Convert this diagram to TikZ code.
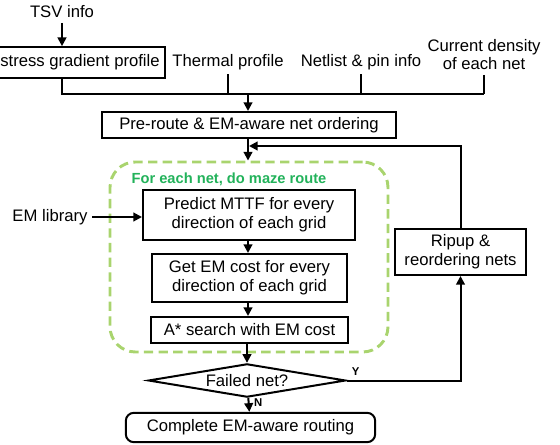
\documentclass[tikz,border=0pt]{standalone}
\usepackage{fontspec}
\setmainfont{Liberation Sans}
\usetikzlibrary{arrows.meta,positioning,calc,shapes.geometric}

\definecolor{loopgreen}{RGB}{169,212,110}
\definecolor{labelgreen}{RGB}{34,178,90}

\tikzset{
  line/.style={line width=1.5pt},
  arr/.style={line width=1.5pt,-{Triangle[length=6.5pt,width=6.5pt]}},
  box/.style={draw,line width=1.5pt,align=center,inner sep=2pt},
  loopbox/.style={draw=loopgreen,line width=2.2pt,dash pattern=on 7pt off 4pt,rounded corners=19pt},
  tag/.style={font=\fontsize{8.5}{10}\selectfont\bfseries}
}

\begin{document}
\begin{tikzpicture}[x=0.75pt,y=-0.75pt,every node/.style={font=\fontsize{12.5}{14.5}\selectfont}]
  \useasboundingbox (0,0) rectangle (560,445);
  % Inputs
  \node (tsv) at (62,12) {TSV info};
  \node[box,minimum width=127.5pt,minimum height=23pt] (stress) at (80,62.5) {stress gradient profile};
  \node (therm) at (228,62) {Thermal profile};
  \node (netl) at (361,62) {Netlist \& pin info};
  \node[align=center,font=\fontsize{12.5}{13.5}\selectfont] (curr) at (484,55) {Current density\\of each net};
  \coordinate (bus) at (248,94);
  \draw[arr] (tsv) -- (tsv |- stress.north);
  \draw[line] (tsv |- stress.south) |- (curr |- bus);
  \draw[line] (therm) -- (therm |- bus);
  \draw[line] (netl) -- (netl |- bus);
  \draw[line] (curr) -- (curr |- bus);
  % Net ordering
  \node[box,minimum width=220.5pt,minimum height=19.5pt] (pre) at (249,125) {Pre-route \& EM-aware net ordering};
  \draw[arr] (bus) -- (bus |- pre.north);
  % Maze route loop
  \node[loopbox,minimum width=208.5pt,minimum height=142.5pt] (maze) at (249,257) {};
  \node[font=\fontsize{11}{13}\selectfont\bfseries,text=labelgreen] (mazelbl) at (229,179) {For each net, do maze route};
  \node[box,minimum width=159pt,minimum height=37.5pt] (pred) at (249,215) {Predict MTTF for every\\direction of each grid};
  \node[box,minimum width=146pt,minimum height=36pt] (cost) at (249.5,278) {Get EM cost for every\\direction of each grid};
  \node[box,minimum width=148pt,minimum height=19.5pt] (astar) at (249.5,330) {A* search with EM cost};
  \node (emlib) at (50,217) {EM library};
  \coordinate (fb) at (249,146);
  \draw[arr] (pre.south -| bus) -- (maze.north -| bus);
  \draw[arr] (emlib) -- (pred.west |- emlib);
  \draw[arr] (pred.south -| bus) -- (cost.north -| bus);
  \draw[arr] (cost.south -| bus) -- (astar.north -| bus);
  % Decision
  \node[draw,diamond,line width=1.5pt,inner sep=0pt,aspect=5.9,minimum width=148pt,minimum height=25pt] (fail) at (247,380.5) {Failed net?};
  \node[box,minimum width=98pt,minimum height=34.5pt] (rip) at (460.5,252) {Ripup \&\\reordering nets};
  \node[box,rounded corners=6pt,minimum width=187pt,minimum height=22pt] (done) at (250.5,427.5) {Complete EM-aware routing};
  \draw[arr] (astar.south -| fail) -- (fail.north);
  \draw[arr] (fail) -- node[tag,right,pos=0.35] {N} (done);
  \draw[arr] (fail.east) -| node[tag,above,pos=0.04] {Y} (rip);
  \draw[arr] (rip) |- (fb);
\end{tikzpicture}
\end{document}
